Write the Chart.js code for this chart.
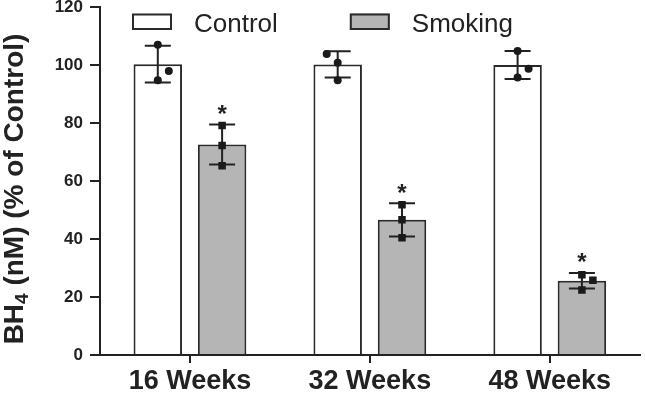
<!DOCTYPE html>
<html><head><meta charset="utf-8">
<script src="https://cdn.jsdelivr.net/npm/chart.js@4.4.1/dist/chart.umd.min.js"></script>
<style>html,body{margin:0;padding:0;background:#fff}#wrap{width:645px;height:400px;position:relative}</style>
</head><body><div id="wrap"><canvas id="c" width="645" height="400"></canvas></div>
<script>
// ---- data ----
const categories = ['16 Weeks', '32 Weeks', '48 Weeks'];
const seriesNames = ['Control', 'Smoking'];
const controlMean = [100.3, 100.2, 100.0];
const controlSD = [6.3, 4.5, 4.8];
const smokingMean = [72.6, 46.6, 25.6];
const smokingSD = [6.9, 5.7, 2.7];
const controlPoints = [[107.0, 97.9, 94.7], [103.8, 100.8, 94.7], [104.8, 98.7, 95.7]];
const smokingPoints = [[79.1, 72.2, 65.3], [51.8, 46.6, 40.4], [27.7, 25.8, 22.4]];
const controlSig = ['', '', ''];
const smokingSig = ['*', '*', '*'];
const yTicks = [0, 20, 40, 60, 80, 100, 120];
const yTitleMain = 'BH';
const yTitleSub = '4';
const yTitleRest = ' (nM) (% of Control)';

// ---- styling ----
const FONT = "'Liberation Sans', Arial, Helvetica, sans-serif";
const INK = '#222222';
const CAT_PCT = 0.715;   // share of a category taken by the pair of bars
const BAR_PCT = 0.754;   // share of each bar's slot that is filled
const groupOffset = [-CAT_PCT / 4, CAT_PCT / 4];

function barXY(means, g) {
  return means.map((v, i) => ({ x: i + groupOffset[g], y: v }));
}
function pointXY(groups, g) {
  const out = [];
  groups.forEach((arr, i) => arr.forEach(v => out.push({ x: i + groupOffset[g], y: v })));
  return out;
}

const errorBarPlugin = {
  id: 'errorBars',
  afterDatasetDraw(chart, args) {
    const ds = chart.data.datasets[args.index];
    if (!ds.errorSD) return;
    const meta = args.meta;
    const y = chart.scales.y;
    const ctx = chart.ctx;
    ctx.save();
    ctx.strokeStyle = INK;
    ctx.lineWidth = 2;
    meta.data.forEach((el, i) => {
      const m = ds.data[i].y, sd = ds.errorSD[i];
      const yt = y.getPixelForValue(m + sd), yb = y.getPixelForValue(m - sd);
      const cw = 13;
      ctx.beginPath();
      ctx.moveTo(el.x, yt); ctx.lineTo(el.x, yb);
      ctx.moveTo(el.x - cw, yt); ctx.lineTo(el.x + cw, yt);
      ctx.moveTo(el.x - cw, yb); ctx.lineTo(el.x + cw, yb);
      ctx.stroke();
      if (ds.sig && ds.sig[i]) {
        ctx.fillStyle = INK;
        ctx.font = 'bold 24px ' + FONT;
        ctx.textAlign = 'center';
        ctx.textBaseline = 'alphabetic';
        ctx.fillText(ds.sig[i], el.x, yt - 2.5);
      }
    });
    ctx.restore();
  }
};

const jitterPlugin = {
  id: 'jitter',
  afterDatasetsUpdate(chart) {
    chart.data.datasets.forEach((ds, di) => {
      if (ds.type !== 'scatter') return;
      const meta = chart.getDatasetMeta(di);
      const groups = {};
      meta.data.forEach((el, k) => {
        const key = Math.round(ds.data[k].x);
        (groups[key] = groups[key] || []).push(el);
      });
      let count = 0;
      Object.keys(groups).sort().forEach(key => {
        const els = groups[key].slice().sort((a, b) => b.y - a.y);
        const placed = [];
        els.forEach(el => {
          const hit = placed.some(p => Math.hypot(p.x - el.x, p.y - el.y) < 10.5);
          if (hit) {
            const side = (count % 2 === 0) ? 1 : -1;
            count++;
            el.x = el.x + side * 11;
          }
          placed.push({ x: el.x, y: el.y });
        });
      });
    });
  }
};

const legendPlugin = {
  id: 'customLegend',
  afterDraw(chart) {
    const ctx = chart.ctx;
    ctx.save();
    ctx.font = '26px ' + FONT;
    ctx.textBaseline = 'alphabetic';
    ctx.textAlign = 'left';
    let x = 132;
    const top = 13.5, bw = 40, bh = 16.5;
    [0, 1].forEach(i => {
      const ds = chart.data.datasets[i];
      ctx.fillStyle = ds.backgroundColor;
      ctx.fillRect(x, top, bw, bh);
      ctx.strokeStyle = ds.borderColor;
      ctx.lineWidth = 2;
      ctx.strokeRect(x + 1, top + 1, bw - 2, bh - 2);
      ctx.fillStyle = INK;
      ctx.fillText(ds.label, x + bw + 22, 32);
      x += bw + 22 + ctx.measureText(ds.label).width + 72;
    });
    ctx.restore();
  }
};

const yTitlePlugin = {
  id: 'yTitle',
  afterDraw(chart) {
    const ctx = chart.ctx;
    const a = chart.chartArea;
    ctx.save();
    const big = 'bold 28px ' + FONT, small = 'bold 19px ' + FONT;
    ctx.font = big; const w1 = ctx.measureText(yTitleMain).width;
    const w3 = ctx.measureText(yTitleRest).width;
    ctx.font = small; const w2 = ctx.measureText(yTitleSub).width;
    const total = w1 + w2 + w3;
    const cy = (a.top + a.bottom) / 2 + 8;
    ctx.translate(23, cy);
    ctx.rotate(-Math.PI / 2);
    ctx.fillStyle = INK;
    ctx.textBaseline = 'alphabetic';
    ctx.textAlign = 'left';
    let x = -total / 2;
    ctx.font = big; ctx.fillText(yTitleMain, x, 0); x += w1;
    ctx.font = small; ctx.fillText(yTitleSub, x, 5); x += w2;
    ctx.font = big; ctx.fillText(yTitleRest, x, 0);
    ctx.restore();
  }
};

new Chart(document.getElementById('c'), {
  data: {
    labels: categories,
    datasets: [
      { type: 'bar', label: seriesNames[0], data: barXY(controlMean, 0), errorSD: controlSD, sig: controlSig,
        xAxisID: 'xp', grouped: false,
        backgroundColor: '#ffffff', borderColor: '#2a2a2a', borderWidth: 2, order: 1,
        categoryPercentage: 1, barPercentage: BAR_PCT },
      { type: 'bar', label: seriesNames[1], data: barXY(smokingMean, 1), errorSD: smokingSD, sig: smokingSig,
        xAxisID: 'xp', grouped: false,
        backgroundColor: '#b5b5b5', borderColor: '#2a2a2a', borderWidth: 2, order: 1,
        categoryPercentage: 1, barPercentage: BAR_PCT },
      { type: 'scatter', label: seriesNames[0] + ' points', data: pointXY(controlPoints, 0), xAxisID: 'xp',
        pointStyle: 'circle', radius: 4, backgroundColor: '#1a1a1a', borderWidth: 0, order: 0 },
      { type: 'scatter', label: seriesNames[1] + ' points', data: pointXY(smokingPoints, 1), xAxisID: 'xp',
        pointStyle: 'rect', radius: 5.3, backgroundColor: '#1a1a1a', borderWidth: 0, order: 0 }
    ]
  },
  options: {
    responsive: false,
    devicePixelRatio: 1,
    animation: false,
    events: [],
    layout: { padding: { top: 0, left: 0, right: 0, bottom: 0 } },
    plugins: { legend: { display: false }, tooltip: { enabled: false } },
    scales: {
      x: {
        type: 'category', offset: true,
        grid: { display: true, drawOnChartArea: false, drawTicks: true, tickLength: 8, color: INK, lineWidth: 2, offset: false },
        border: { display: true, color: INK, width: 2 },
        ticks: { color: INK, padding: 2, font: { family: FONT, size: 27, weight: 'bold' } },
        afterFit: s => { s.height = 45; }
      },
      xp: { type: 'linear', min: -0.5, max: 2.5, offset: false, display: false, ticks: { stepSize: 1 } },
      y: {
        min: 0, max: 120,
        afterBuildTicks: s => { s.ticks = yTicks.map(v => ({ value: v })); },
        grid: { display: true, drawOnChartArea: false, drawTicks: true, tickLength: 10, color: INK, lineWidth: 2 },
        border: { display: true, color: INK, width: 2 },
        ticks: { color: INK, padding: 7, font: { family: FONT, size: 17, weight: 'bold', lineHeight: 0.8 } },
        afterFit: s => { s.width = 100; s.paddingTop = 7; s.paddingBottom = 0; }
      }
    }
  },
  plugins: [jitterPlugin, errorBarPlugin, legendPlugin, yTitlePlugin]
});
</script>
</body></html>
